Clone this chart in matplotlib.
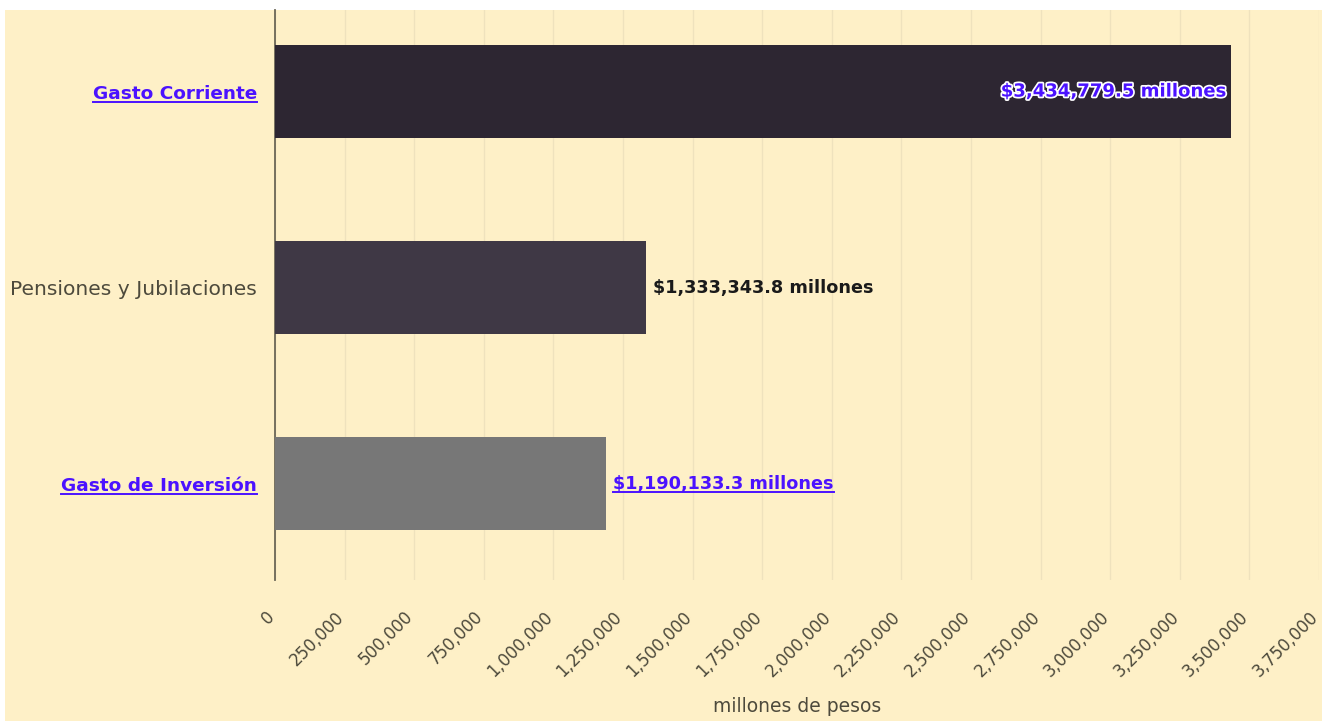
import matplotlib
matplotlib.use("Agg")
import matplotlib.pyplot as plt
import matplotlib.patheffects as pe
import matplotlib.transforms as mtrans
from matplotlib.lines import Line2D
from matplotlib.patches import Rectangle
from matplotlib.ticker import FuncFormatter, MultipleLocator

plt.rcParams['font.family'] = ['DejaVu Sans']

categorias = ["Gasto Corriente", "Pensiones y Jubilaciones", "Gasto de Inversión"]
valores = [3434779.5, 1333343.8, 1190133.3]
colores = ["#2d2632", "#3f3845", "#777777"]
es_enlace = [True, False, True]

fondo = "#fef0c7"
enlace = "#4b12ff"
gris = "#4d4a3c"

fig = plt.figure(figsize=(13.22, 7.21), dpi=100, facecolor="white")
fig.patches.append(Rectangle((5/1322, 0), 1, 1 - 10/721, transform=fig.transFigure,
                             facecolor=fondo, edgecolor="none", zorder=-10))

ax = fig.add_axes([275/1322, 1 - 580/721, 1044/1322, 570/721])
ax.set_facecolor(fondo)
ax.patch.set_alpha(0)

ys = list(range(len(categorias)))
ax.barh(ys, valores, height=0.475, color=colores, zorder=3)
ax.set_ylim(2.49, -0.416)
ax.set_xlim(0, 3750000)

ax.xaxis.set_major_locator(MultipleLocator(250000))
ax.xaxis.set_major_formatter(FuncFormatter(lambda v, p: f"{int(v):,}"))
ax.grid(axis="x", color="#efe2bd", linewidth=1, zorder=0)
ax.tick_params(axis="x", length=0, pad=20, labelsize=12, labelcolor=gris)
desplazar = mtrans.ScaledTranslation(-10/100, 0, fig.dpi_scale_trans)
for lbl in ax.get_xticklabels():
    lbl.set_rotation(45)
    lbl.set_ha("right")
    lbl.set_rotation_mode("anchor")
    lbl.set_transform(lbl.get_transform() + desplazar)
ax.set_xlabel("millones de pesos", fontsize=13.5, color=gris, labelpad=12)

ax.set_yticks(ys)
ax.set_yticklabels(categorias)
ax.tick_params(axis="y", length=0, pad=13, labelsize=14)
for lbl, link in zip(ax.get_yticklabels(), es_enlace):
    if link:
        lbl.set_color(enlace)
        lbl.set_fontweight("bold")
        lbl.set_fontsize(13.3)
    else:
        lbl.set_color(gris)
        lbl.set_fontsize(14.6)

for s in ["top", "right", "bottom"]:
    ax.spines[s].set_visible(False)
ax.spines["left"].set_color("#6b6657")
ax.spines["left"].set_linewidth(1.3)

textos = []
for y, v, link in zip(ys, valores, es_enlace):
    etiqueta = f"${v:,.1f} millones"
    if v > 3000000:
        t = ax.text(v - 22000, y, etiqueta, ha="right", va="center", fontsize=13,
                    fontweight="bold", color=enlace, zorder=5,
                    path_effects=[pe.withStroke(linewidth=2.5, foreground="white")])
    elif link:
        t = ax.text(v + 25000, y, etiqueta, ha="left", va="center", fontsize=12.7,
                    fontweight="bold", color=enlace, zorder=5)
        textos.append(t)
    else:
        t = ax.text(v + 25000, y, etiqueta, ha="left", va="center", fontsize=12.7,
                    fontweight="bold", color="#1a1a1a", zorder=5)

# subrayado de los textos que son enlaces
fig.canvas.draw()
r = fig.canvas.get_renderer()
subrayar = textos + [l for l, link in zip(ax.get_yticklabels(), es_enlace) if link]
for t in subrayar:
    bb = t.get_window_extent(r)
    yline = bb.y0 + 0.5
    fig.lines.append(Line2D([bb.x0 / 1322, bb.x1 / 1322], [yline / 721, yline / 721],
                            transform=fig.transFigure, color=enlace, linewidth=1.4))

fig.savefig("out.png", dpi=100, facecolor="white")
